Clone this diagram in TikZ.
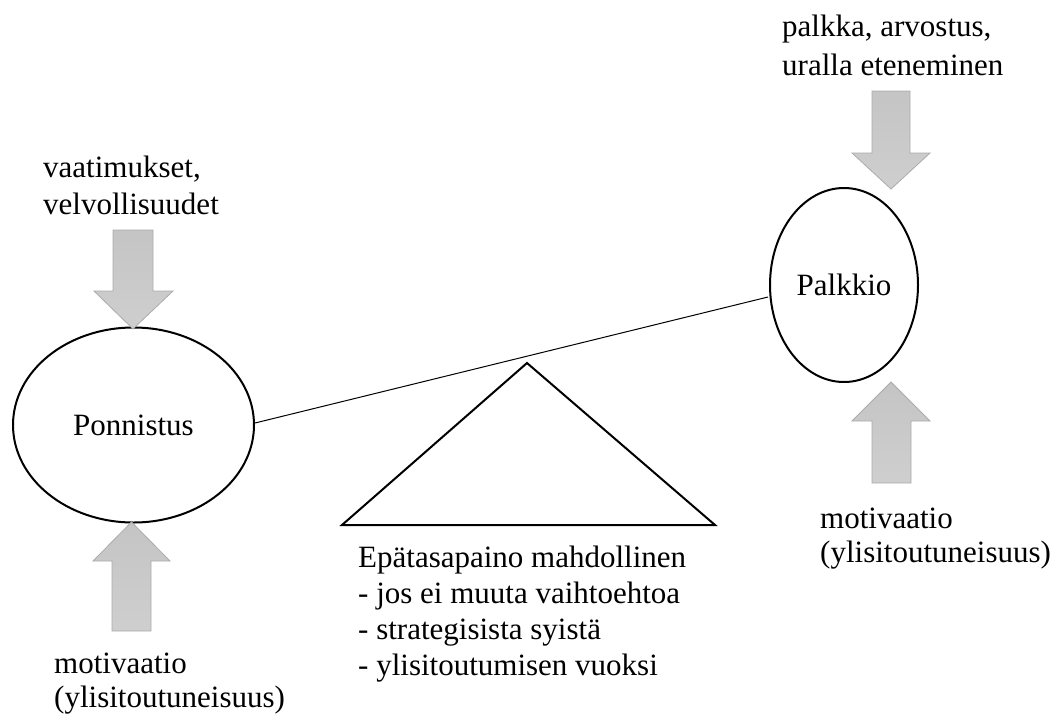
\documentclass[tikz,border=0pt]{standalone}
\usepackage{fontspec}
\setmainfont{Liberation Serif}
\usetikzlibrary{shapes.geometric}
\tikzset{
  oval/.style={draw=black, line width=2pt, ellipse, inner sep=0pt},
  fatarrow/.style={draw=black!33, line width=0.8pt, top color=black!23, bottom color=black!19},
  lbl/.style={inner sep=0pt, anchor=base west, align=left, font=\fontsize{31}{36}\selectfont},
}
\begin{document}
\begin{tikzpicture}[x=1pt,y=-1pt]
\useasboundingbox (0,0) rectangle (1062,715);
% ellipses
\node[oval, minimum width=241pt, minimum height=195pt] (pon) at (133.5,425) {};
\node[font=\fontsize{31}{36}\selectfont] at (pon.center) {Ponnistus};
\node[oval, minimum width=148pt, minimum height=194pt] (pal) at (844,285) {};
\node[font=\fontsize{31}{36}\selectfont] at (pal.center) {Palkkio};
% connector
\coordinate (la) at (255,423);
\coordinate (ra) at (768,297);
\draw[line width=1pt] (la) -- (ra);
% triangle
\coordinate (tA) at (527,363);
\coordinate (tB) at (342,525);
\coordinate (tC) at (715,525);
\draw[line width=2pt, line join=miter] (tA) -- (tB) -- (tC) -- cycle;
% arrows: top-left (down)
\path[fatarrow] (113,230) -- (153,230) -- (153,291) -- (173,291) -- (133,329) -- (94,291) -- (113,291) -- cycle;
% bottom-left (up)
\path[fatarrow] (112,631) -- (151,631) -- (151,561) -- (170,561) -- (131.5,522) -- (93,561) -- (112,561) -- cycle;
% right top (down)
\path[fatarrow] (872,91) -- (910,91) -- (910,153) -- (930,153) -- (891,189) -- (852,153) -- (872,153) -- cycle;
% right bottom (up)
\path[fatarrow] (872,483) -- (911,483) -- (911,421) -- (930,421) -- (891,382) -- (852,421) -- (872,421) -- cycle;
% labels (anchor = baseline of last line)
\node[lbl] (t1) at (43,214) {vaatimukset,\\[1pt]velvollisuudet};
\node[lbl] (t2) at (782,75) {palkka, arvostus,\\[3pt]uralla eteneminen};
\node[lbl] (t3) at (820,562) {motivaatio\\[-2pt](ylisitoutuneisuus)};
\node[lbl] (t4) at (54,707) {motivaatio\\[-2pt](ylisitoutuneisuus)};
\node[lbl] (t5) at (358,675) {Epätasapaino mahdollinen\\- jos ei muuta vaihtoehtoa\\- strategisista syistä\\- ylisitoutumisen vuoksi};
\end{tikzpicture}
\end{document}
